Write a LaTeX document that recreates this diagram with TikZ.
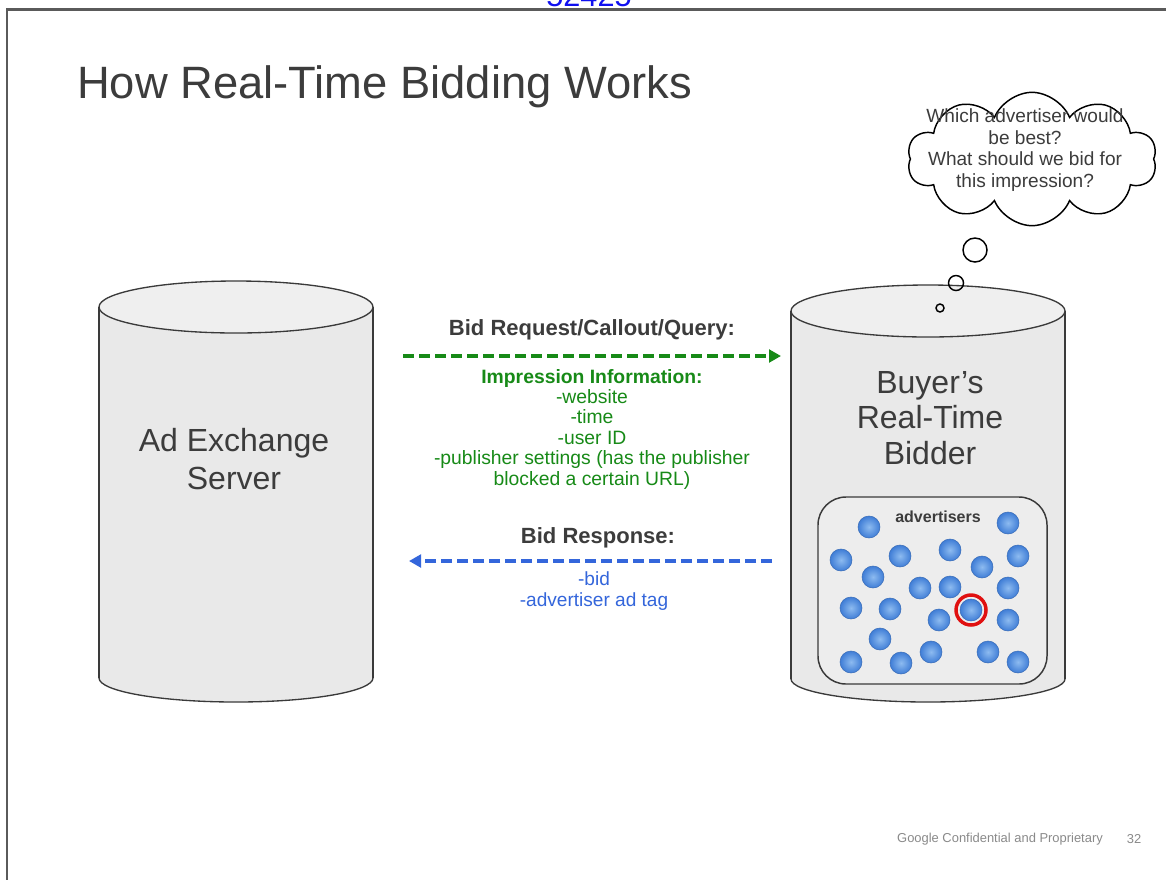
\documentclass[tikz,border=0pt]{standalone}
\usepackage{fontspec}
\setmainfont{Liberation Sans}
\usetikzlibrary{arrows.meta,shapes.symbols}

\definecolor{framegray}{HTML}{5A5A5A}
\definecolor{titlegray}{HTML}{3C3C3C}
\definecolor{cylfill}{HTML}{E9E9E9}
\definecolor{cyltop}{HTML}{EFEFEF}
\definecolor{cylline}{HTML}{3A3A3A}
\definecolor{reqgreen}{HTML}{178A17}
\definecolor{respblue}{HTML}{3466DB}
\definecolor{ballin}{HTML}{8DBBF0}
\definecolor{ballout}{HTML}{3F7DD6}
\definecolor{ballrim}{HTML}{3A6DB8}
\definecolor{pickred}{HTML}{E01010}
\definecolor{footgray}{HTML}{8A8A8A}
\definecolor{linkblue}{HTML}{1010F0}

\tikzset{
  cylbody/.style={fill=cylfill},
  cyledge/.style={draw=cylline, line width=1pt},
  cyllabel/.style={text=titlegray, align=center, font=\fontsize{24}{28}\selectfont},
  flowhead/.style={font=\bfseries\fontsize{16.5}{19}\selectfont, text=titlegray},
  reqarrow/.style={draw=reqgreen, line width=2.3pt, dash pattern=on 8pt off 4pt,
    -{Triangle[length=9pt,width=9.5pt]}},
  resparrow/.style={draw=respblue, line width=2.3pt, dash pattern=on 8pt off 4pt,
    -{Triangle[length=9pt,width=9.5pt]}},
  advball/.style={inner color=ballin, outer color=ballout},
  advrim/.style={draw=ballrim, line width=0.4pt},
  bubble/.style={draw=black, line width=1.1pt, fill=white},
}

\begin{document}
\begin{tikzpicture}[x=0.75pt, y=-0.75pt]
\useasboundingbox (0,0) rectangle (1166,879);
\clip (0,0) rectangle (1166,879);
\fill[white] (0,0) rectangle (1166,879);

% slide frame and link number
\node[anchor=base, text=linkblue, font=\fontsize{23}{26}\selectfont, inner sep=0pt] (linknum) at (589,6) {52425};
\draw[framegray, line width=1.6pt] (7,900) -- (7,9.5) -- (1180,9.5);

% title
\node[anchor=base west, text=titlegray, font=\fontsize{34}{40}\selectfont, inner sep=0pt] (title) at (77,98) {How Real-Time Bidding Works};

% ---- Ad Exchange Server cylinder ----
\fill[cylbody] (99,307) rectangle (373,678);
\fill[cylbody] (236,678) ellipse [x radius=137, y radius=24];
\draw[cyledge] (99,307) -- (99,678);
\draw[cyledge] (373,307) -- (373,678);
\begin{scope}
  \clip (90,678) rectangle (382,715);
  \draw[cyledge] (236,678) ellipse [x radius=137, y radius=24];
\end{scope}
\draw[cyledge, fill=cyltop] (236,307) ellipse [x radius=137, y radius=26];
\node[cyllabel] (adx) at (234,459) {Ad Exchange\\Server};

% ---- Buyer's Real-Time Bidder cylinder ----
\fill[cylbody] (791,311) rectangle (1065,679);
\fill[cylbody] (928,679) ellipse [x radius=137, y radius=23];
\draw[cyledge] (791,311) -- (791,679);
\draw[cyledge] (1065,311) -- (1065,679);
\begin{scope}
  \clip (782,679) rectangle (1074,715);
  \draw[cyledge] (928,679) ellipse [x radius=137, y radius=23];
\end{scope}
\draw[cyledge, fill=cyltop] (928,311) ellipse [x radius=137, y radius=26];
\node[cyllabel, font=\fontsize{24}{26.5}\selectfont] (rtb) at (930,418) {Buyer’s\\Real-Time\\Bidder};

% advertisers pool
\draw[cylline, line width=1.1pt, fill=cylfill!80!white, rounded corners=21pt]
  (818,497) rectangle (1047,684);
\node[font=\bfseries\fontsize{12}{14}\selectfont, text=titlegray] (advlabel) at (938,517) {advertisers};
\foreach \bx/\by in {869/527, 1008/523, 841/560, 900/556, 950/550, 982/567, 1018/556,
                     873/577, 920/588, 950/587, 1008/588, 851/608, 890/609, 939/620,
                     971/610, 1008/620, 880/639, 851/662, 901/663, 931/652, 988/652, 1018/662}{
  \shade[advball] (\bx,\by) circle [radius=11];
  \draw[advrim] (\bx,\by) circle [radius=11];
}
\draw[pickred, line width=2.6pt] (971,610) circle [radius=15];

% thought cloud
\node[cloud, cloud puffs=10, cloud puff arc=135, draw=black, line width=1.1pt, fill=white,
      minimum width=187pt, minimum height=100pt, inner sep=0pt] (thought) at (1032,159) {};
\node[align=center, text=titlegray, font=\fontsize{14.3}{16.3}\selectfont] (thoughttext) at (1025,150)
  {Which advertiser would\\be best?\\What should we bid for\\this impression?};
\draw[bubble] (975,250) circle [radius=12];
\draw[black, line width=1.1pt] (956,283) circle [radius=7.5];
\draw[black, line width=1.1pt] (940,308) circle [radius=4];

% bid request
\node[flowhead] (reqlabel) at (592,330) {Bid Request/Callout/Query:};
\coordinate (reqfrom) at (403,356);
\coordinate (reqto) at (781,356);
\draw[reqarrow] (reqfrom) -- (reqto);
\node[align=center, text=reqgreen, font=\fontsize{14.5}{15.3}\selectfont] (reqinfo) at (592,429)
  {\textbf{Impression Information:}\\-website\\-time\\-user ID\\-publisher settings (has the publisher\\blocked a certain URL)};

% bid response
\node[flowhead] (resplabel) at (598,538) {Bid Response:};
\coordinate (respfrom) at (772,561);
\coordinate (respto) at (409,561);
\draw[resparrow] (respfrom) -- (respto);
\node[align=center, text=respblue, font=\fontsize{14.3}{16.3}\selectfont] (respinfo) at (594,591)
  {-bid\\-advertiser ad tag};

% footer
\node[text=footgray, font=\fontsize{9.7}{11}\selectfont] (footer) at (1000,839) {Google Confidential and Proprietary};
\node[text=footgray, font=\fontsize{9.7}{11}\selectfont] (pagenum) at (1134,839) {32};
\end{tikzpicture}
\end{document}
